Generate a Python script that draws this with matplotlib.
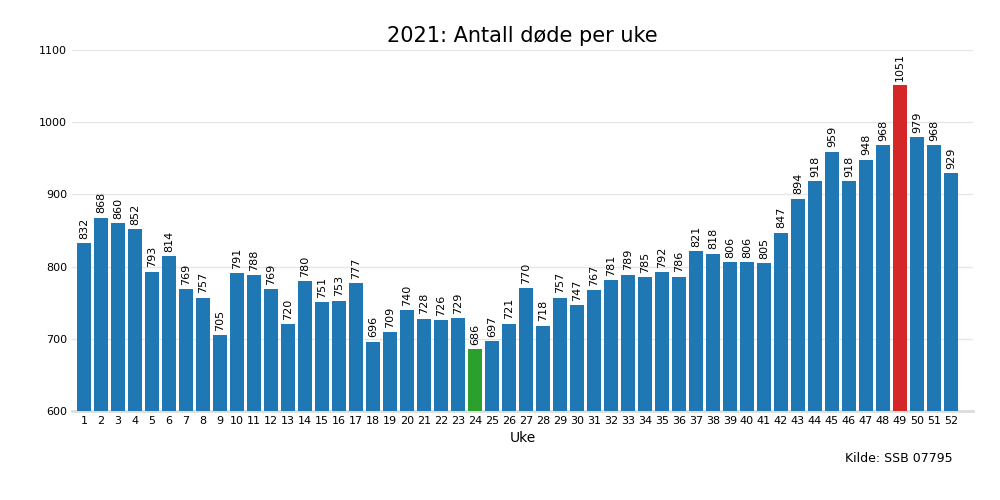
import matplotlib
matplotlib.use("Agg")
import matplotlib.pyplot as plt

weeks = list(range(1, 53))
deaths = [832, 868, 860, 852, 793, 814, 769, 757, 705, 791, 788, 769, 720,
          780, 751, 753, 777, 696, 709, 740, 728, 726, 729, 686, 697, 721,
          770, 718, 757, 747, 767, 781, 789, 785, 792, 786, 821, 818, 806,
          806, 805, 847, 894, 918, 959, 918, 948, 968, 1051, 979, 968, 929]

lo, hi = min(deaths), max(deaths)
colors = ["#2ca02c" if d == lo else "#d62728" if d == hi else "#1f77b4"
          for d in deaths]

fig = plt.figure(figsize=(10, 5), dpi=100)
ax = fig.add_axes([0.072, 0.178, 0.901, 0.722])
bars = ax.bar(weeks, deaths, color=colors, width=0.8, zorder=3)
for w, d in zip(weeks, deaths):
    ax.text(w, d + 6, str(d), rotation=90, ha="center", va="bottom", fontsize=8)

ax.set_ylim(600, 1100)
ax.set_xlim(0.3, 53.3)
ax.set_xticks(weeks)
ax.set_yticks(range(600, 1101, 100))
ax.tick_params(axis="both", length=0, labelsize=8)
ax.grid(axis="y", color="#e6e6e6", linewidth=1, zorder=0)
for s in ["top", "right", "left"]:
    ax.spines[s].set_visible(False)
ax.spines["bottom"].set_color("#dddddd")
ax.spines["bottom"].set_linewidth(2)
ax.set_xlabel("Uke", fontsize=10)
ax.set_title("2021: Antall døde per uke", fontsize=15)
fig.text(0.953, 0.076, "Kilde: SSB 07795", ha="right", fontsize=9)

fig.savefig("out.png")
